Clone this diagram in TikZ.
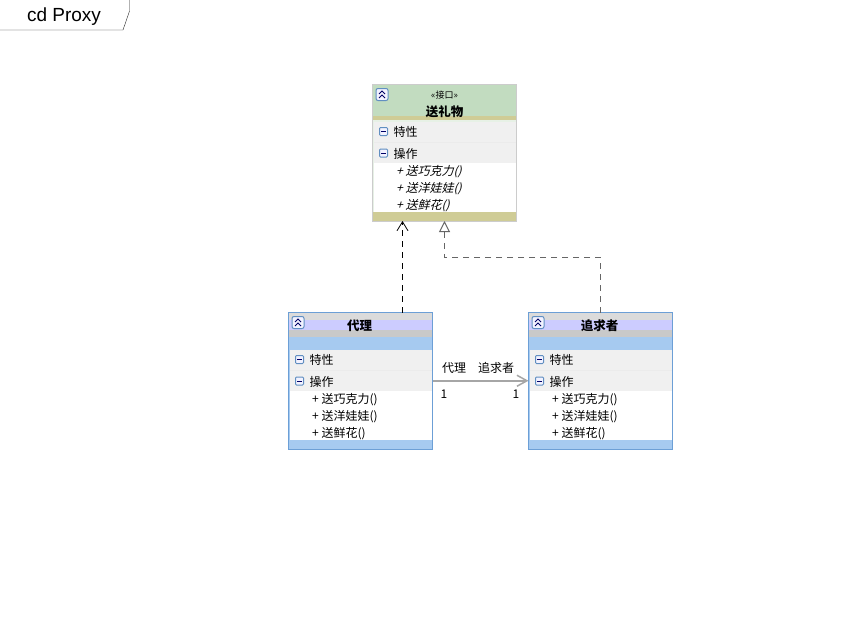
\documentclass[tikz,border=0pt]{standalone}
\usepackage{fontspec}
\setmainfont{Noto Sans CJK SC}[AutoFakeSlant=0.25]
\newfontfamily\framefont{Liberation Sans}
\usetikzlibrary{arrows.meta}
\definecolor{edgeblue}{HTML}{6C9FD6}
\definecolor{bandblue}{HTML}{A6CAF0}
\definecolor{bandkhaki}{HTML}{CFCC96}
\definecolor{headgreen}{HTML}{C2DCC0}
\definecolor{headlav}{HTML}{CCCCFF}
\definecolor{rowgray}{HTML}{F0F0F0}
\tikzset{
	classbox/.style={rectangle,minimum width=144pt,minimum height=136.5pt,inner sep=0pt,outer sep=0pt,line width=1pt},
	rowtext/.style={anchor=west,inner sep=0pt,font=\fontsize{12}{13}\selectfont},
	titletext/.style={inner sep=0pt,font=\fontsize{12.5}{13}\selectfont\bfseries},
	endtext/.style={inner sep=0pt,font=\fontsize{12}{13}\selectfont},
	depend/.style={dashed,dash pattern=on 6pt off 5pt,line width=0.8pt,-{Straight Barb[length=9pt,width=11pt]}},
	realize/.style={dashed,dash pattern=on 6pt off 5pt,line width=1pt,draw=black!60,-{Triangle[open,length=11pt,width=11pt,fill=white]}},
	assoc/.style={line width=1.5pt,draw=black!35,-{Straight Barb[length=10pt,width=11pt]}},
	collapsebtn/.pic={
		\draw[rounded corners=2pt,line width=1pt,draw=edgeblue!90!black,fill=blue!5] (-6,-6) rectangle (6,6);
		\draw[line width=1pt,draw=blue!40!black] (-3,-0.5) -- (0,-3.5) -- (3,-0.5) (-3,3.5) -- (0,0.5) -- (3,3.5);
	},
	minusbtn/.pic={
		\draw[draw=edgeblue!90!black,line width=1pt,fill=blue!5,rounded corners=1pt] (-4,-4) rectangle (4,4);
		\draw[line width=1pt,draw=blue!40!black] (-2.5,0) -- (2.5,0);
	}
}
% #1 name, #2 top left, #3 edge, #4 band, #5 member font, #6 header
\newcommand{\umlclass}[6]{
	\begin{scope}[shift={#2}]
		\fill[#4] (0,0) rectangle (144,136.5);
		#6
		\fill[black!8] (1,37.5) rectangle (143,78.5);
		\fill[rowgray] (1,37.5) rectangle (143,57.5);
		\fill[rowgray] (1,58.5) rectangle (143,78.5);
		\fill[white] (1,78.5) rectangle (143,127.5);
		\node[classbox,draw=#3] (#1) at (72,68.25) {};
		\pic at (11,47) {minusbtn};
		\pic at (11,68.5) {minusbtn};
		\pic at (9.5,10) {collapsebtn};
		\node[rowtext] (#1attr) at (21,47.5) {特性};
		\node[rowtext] (#1oper) at (21,69) {操作};
		\node[rowtext] (#1m) at (23.5,87.5) {#5+ 送巧克力()};
		\node[rowtext] (#1n) at (23.5,104) {#5+ 送洋娃娃()};
		\node[rowtext] (#1o) at (23.5,121) {#5+ 送鲜花()};
	\end{scope}
}
\begin{document}
\begin{tikzpicture}[x=1pt,y=-1pt]
	\useasboundingbox (0,0) rectangle (843,626);
	\fill[white] (0,0) rectangle (843,626);
	\node[inner sep=0pt,font=\framefont\fontsize{19}{21}\selectfont] (frametitle) at (64,17) {cd Proxy};
	\coordinate (framea) at (0,30);
	\coordinate (frameb) at (123,30);
	\coordinate (framec) at (129.5,11);
	\coordinate (framed) at (129.5,0);
	\draw[draw=black!85] (framea) -- (frameb) -- (framec) -- (framed);

	\umlclass{gift}{(372.5,84.5)}{black!20}{bandkhaki}{\itshape}{
		\fill[headgreen] (0,0) rectangle (144,31);
		\fill[headgreen!40] (0,35) rectangle (144,127);
		\fill[bandkhaki] (0,31) rectangle (144,35);
		\node[inner sep=0pt,font=\fontsize{9}{10}\selectfont] (giftstereo) at (72,11) {«接口»};
		\node[titletext] (gifttitle) at (72,27) {送礼物};
	}
	\umlclass{proxy}{(288.5,312.5)}{edgeblue}{bandblue}{}{
		\fill[black!14] (0,0) rectangle (144,7.5);
		\fill[headlav] (0,7.5) rectangle (144,17.5);
		\fill[black!21] (0,17.5) rectangle (144,24.5);
		\node[titletext] (proxytitle) at (71,13) {代理};
	}
	\umlclass{suitor}{(528.5,312.5)}{edgeblue}{bandblue}{}{
		\fill[black!14] (0,0) rectangle (144,7.5);
		\fill[headlav] (0,7.5) rectangle (144,17.5);
		\fill[black!21] (0,17.5) rectangle (144,24.5);
		\node[titletext] (suitortitle) at (71,13) {追求者};
	}

	\coordinate (tipa) at (402.5,221);
	\coordinate (bend) at (444.5,257);
	\draw[depend] (proxy.north -| tipa) -- (tipa);
	\draw[realize] (suitor.north) |- (bend) -- (gift.south);
	\draw[assoc] (proxy.east) -- (suitor.west);
	\node[endtext] (rolea) at (454,368) {代理};
	\node[endtext] (roleb) at (496,368) {追求者};
	\node[endtext] (multa) at (444,394) {1};
	\node[endtext] (multb) at (516,394) {1};
\end{tikzpicture}
\end{document}
